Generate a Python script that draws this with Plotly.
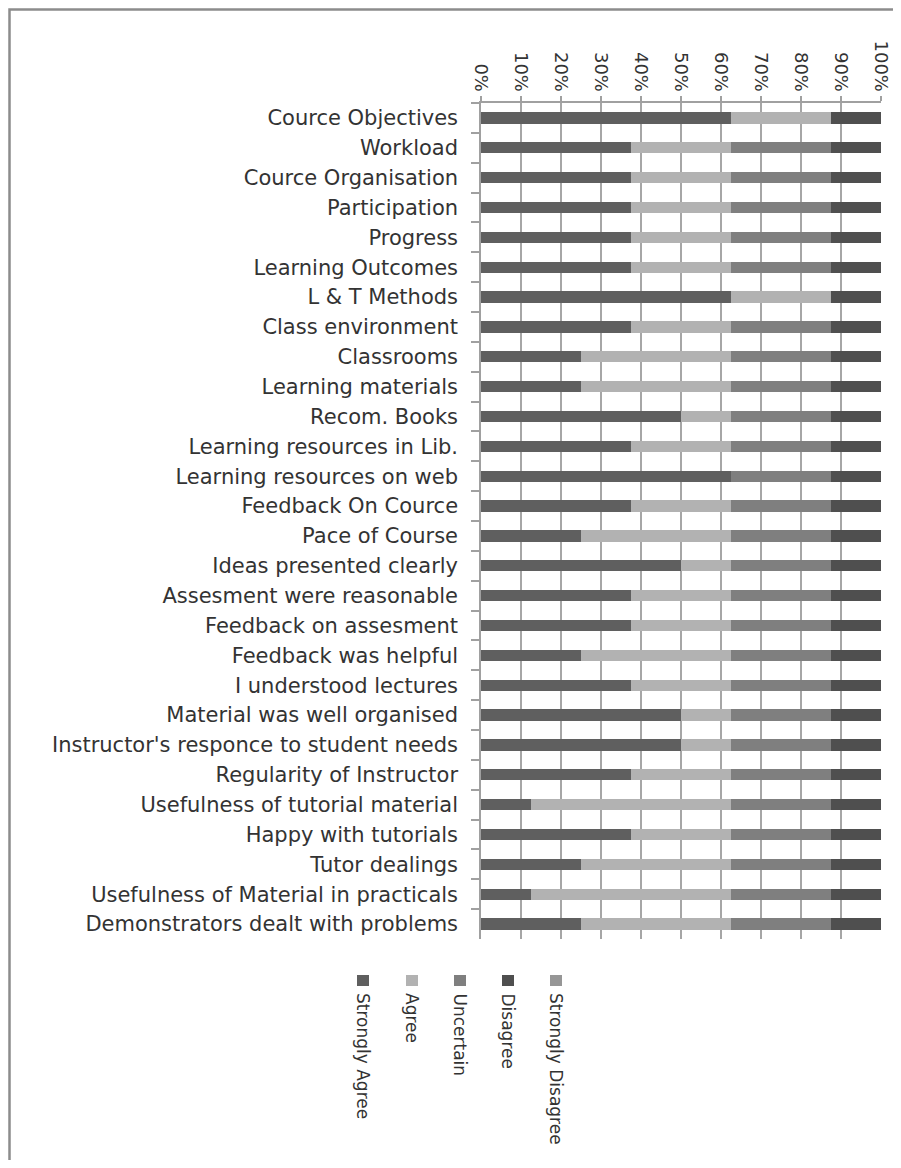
import plotly.graph_objects as go

categories = [
    "Cource Objectives", "Workload", "Cource Organisation", "Participation",
    "Progress", "Learning Outcomes", "L & T Methods", "Class environment",
    "Classrooms", "Learning materials", "Recom. Books", "Learning resources in Lib.",
    "Learning resources on web", "Feedback On Cource", "Pace of Course",
    "Ideas presented clearly", "Assesment were reasonable", "Feedback on assesment",
    "Feedback was helpful", "I understood lectures", "Material was well organised",
    "Instructor's responce to student needs", "Regularity of Instructor",
    "Usefulness of tutorial material", "Happy with tutorials", "Tutor dealings",
    "Usefulness of Material in practicals", "Demonstrators dealt with problems",
]

strongly_agree = [62.5, 37.5, 37.5, 37.5, 37.5, 37.5, 62.5, 37.5, 25, 25, 50, 37.5, 62.5, 37.5,
                  25, 50, 37.5, 37.5, 25, 37.5, 50, 50, 37.5, 12.5, 37.5, 25, 12.5, 25]
agree = [25, 25, 25, 25, 25, 25, 25, 25, 37.5, 37.5, 12.5, 25, 0, 25,
         37.5, 12.5, 25, 25, 37.5, 25, 12.5, 12.5, 25, 50, 25, 37.5, 50, 37.5]
uncertain = [0, 25, 25, 25, 25, 25, 0, 25, 25, 25, 25, 25, 25, 25,
             25, 25, 25, 25, 25, 25, 25, 25, 25, 25, 25, 25, 25, 25]
disagree = [12.5] * 28
strongly_disagree = [0] * 28

series_names = ["Strongly Agree", "Agree", "Uncertain", "Disagree", "Strongly Disagree"]
series_values = [strongly_agree, agree, uncertain, disagree, strongly_disagree]
series_colors = ["#5f5f5f", "#b2b2b2", "#7f7f7f", "#4f4f4f", "#969696"]

tick_vals = [0, 10, 20, 30, 40, 50, 60, 70, 80, 90, 100]
tick_text = [f"{v}%" for v in tick_vals]

FONT = "DejaVu Sans"
TEXT_COLOR = "#333333"

fig = go.Figure()
for name, vals, col in zip(series_names, series_values, series_colors):
    fig.add_trace(go.Bar(
        y=categories, x=vals, name=name, orientation="h",
        marker=dict(color=col, line=dict(width=0)),
        showlegend=False,
    ))

# page has an 8px body margin; size the figure to fit the window
OFF = 8
W, H = 901 - 2 * OFF, 1168 - 2 * OFF
L, R, T, B = 481 - OFF, 881 - OFF, 103 - OFF, 939 - OFF


def px_x(x):
    return (x - OFF - L) / (R - L)


def px_y(y):
    return (B - (y - OFF)) / (B - T)


shapes = []
annotations = []
# legend (vertical text, as in the reference)
leg_x = [363, 412, 460, 508, 556]
for name, col, cx in zip(series_names, series_colors, leg_x):
    shapes.append(dict(type="rect", xref="paper", yref="paper",
                       x0=px_x(cx - 6), x1=px_x(cx + 6), y0=px_y(986), y1=px_y(975),
                       fillcolor=col, line=dict(width=0), layer="above"))
    annotations.append(dict(text=name, xref="paper", yref="paper",
                            x=px_x(cx), y=px_y(991), xanchor="center", yanchor="top",
                            textangle=90, showarrow=False,
                            font=dict(family=FONT, size=17, color=TEXT_COLOR)))

# outer frame (top and left visible)
shapes.append(dict(type="rect", xref="paper", yref="paper",
                   x0=px_x(9.5), x1=px_x(901 + 40), y0=px_y(1168 + 40), y1=px_y(9.5),
                   line=dict(color="#8c8c8c", width=2.5), fillcolor="rgba(0,0,0,0)",
                   layer="below"))

fig.update_layout(
    width=W, height=H,
    barmode="stack", bargap=0.62,
    margin=dict(l=L, r=W - R, t=T, b=H - B, pad=0, autoexpand=False),
    paper_bgcolor="white", plot_bgcolor="white",
    font=dict(family=FONT, size=21, color=TEXT_COLOR),
    shapes=shapes, annotations=annotations,
)
fig.update_xaxes(
    side="top", range=[0, 100], tickvals=tick_vals, ticktext=tick_text,
    tickangle=90, ticks="outside", ticklen=5, tickcolor="#a0a0a0", tickwidth=1.5,
    showgrid=True, gridcolor="#a6a6a6", gridwidth=1.5,
    showline=True, linecolor="#a0a0a0", linewidth=1.5,
    zeroline=False, ticklabelstandoff=-2, automargin=False,
    tickfont=dict(family=FONT, size=18, color=TEXT_COLOR),
)
fig.update_yaxes(
    autorange="reversed", type="category", tickson="boundaries",
    ticks="outside", ticklen=8, tickcolor="#a0a0a0", tickwidth=1.5,
    showline=True, linecolor="#a0a0a0", linewidth=1.5, showgrid=False,
    ticklabelstandoff=17, automargin=False,
    tickfont=dict(family=FONT, size=21, color=TEXT_COLOR),
)

fig.write_html("out.html")
